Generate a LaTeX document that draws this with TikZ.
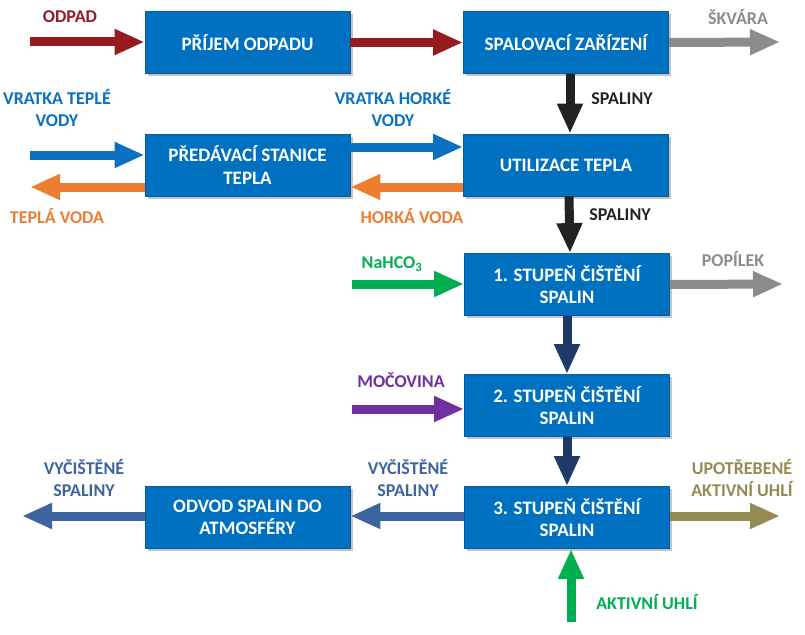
\documentclass[tikz,border=0pt]{standalone}
\usepackage{fontspec}
\setmainfont{Carlito}
\usetikzlibrary{arrows.meta,shadows,calc}
\newcommand\UC[1]{\MakeUppercase{#1}}
\definecolor{boxblue}{HTML}{0070C0}
\definecolor{boxedge}{HTML}{0A5A9A}
\definecolor{cred}{HTML}{961B1E}
\definecolor{cgray}{HTML}{8C8C8C}
\definecolor{cblack}{HTML}{222222}
\definecolor{cblue}{HTML}{0A70C0}
\definecolor{corange}{HTML}{ED7D31}
\definecolor{cgreen}{HTML}{00B050}
\definecolor{cnavy}{HTML}{1F3A68}
\definecolor{cpurple}{HTML}{7030A0}
\definecolor{csteel}{HTML}{3E64A0}
\definecolor{colive}{HTML}{948A54}
\begin{document}
\begin{tikzpicture}[x=1pt,y=-1pt,
  box/.style={draw=boxedge,line width=0.8pt,fill=boxblue,minimum width=205pt,minimum height=62pt,
    text=white,font=\fontsize{19}{22.5}\selectfont\bfseries,align=center,inner sep=2pt,
    drop shadow={shadow xshift=2.5pt,shadow yshift=-2.5pt,opacity=0.45}},
  flow/.style={line width=9pt,-{Triangle[width=24pt,length=30pt]}},
  lbl/.style={font=\fontsize{18}{22}\selectfont\bfseries,align=center,inner sep=0pt}]
\useasboundingbox (0,0) rectangle (805,634);
\fill[white] (0,0) rectangle (805,634);
% boxes
\node[box] (prijem) at (247.5,42.5) {\UC{PŘÍJEM ODPADU}};
\node[box] (spal) at (566,42.5) {\UC{SPALOVACÍ ZAŘÍZENÍ}};
\node[box] (pred) at (247.5,165) {\UC{PŘEDÁVACÍ STANICE}\\\UC{TEPLA}};
\node[box] (util) at (566,165) {\UC{UTILIZACE TEPLA}};
\node[box] (st1) at (567,284.5) {\UC{1. STUPEŇ ČIŠTĚNÍ}\\\UC{SPALIN}};
\node[box] (st2) at (567,405.5) {\UC{2. STUPEŇ ČIŠTĚNÍ}\\\UC{SPALIN}};
\node[box] (st3) at (567,517.5) {\UC{3. STUPEŇ ČIŠTĚNÍ}\\\UC{SPALIN}};
\node[box] (odvod) at (247.5,517.5) {\UC{ODVOD SPALIN DO}\\\UC{ATMOSFÉRY}};
% free ends
\coordinate (odpadin) at (30,42);
\coordinate (skvara) at (780,42);
\coordinate (vrtin) at (30,155);
\coordinate (tvout) at (30,187);
\coordinate (nain) at (352,284);
\coordinate (popout) at (783,284);
\coordinate (mocin) at (352,409);
\coordinate (atmout) at (22,516);
\coordinate (uhliout) at (780,516);
\coordinate (uhliin) at (571,622);
% connectors
\draw[flow,cred] (odpadin) -- (odpadin -| prijem.west);
\draw[flow,cred] (prijem.east) -- (spal.west);
\draw[flow,cgray] (spal.east) -- (skvara);
\draw[flow,cblack] ($(spal.south)+(4,0)$) -- ($(util.north)+(4,0)$);
\draw[flow,cblue] (vrtin) -- (vrtin -| pred.west);
\draw[flow,cblue] ($(pred.east)+(0,-18)$) -- ($(util.west)+(0,-18)$);
\draw[flow,corange] ($(util.west)+(0,22)$) -- ($(pred.east)+(0,22)$);
\draw[flow,corange] ($(pred.west)+(0,22)$) -- (tvout);
\draw[flow,cblack] ($(util.south)+(3,0)$) -- ($(st1.north)+(3,0)$);
\draw[flow,cgreen] (nain) -- (nain -| st1.west);
\draw[flow,cgray] (st1.east) -- (popout);
\draw[flow,cnavy] (st1.south) -- (st2.north);
\draw[flow,cpurple] (mocin) -- (mocin -| st2.west);
\draw[flow,cnavy] (st2.south) -- (st3.north);
\draw[flow,csteel] ($(st3.west)+(0,-1.5)$) -- ($(odvod.east)+(0,-1.5)$);
\draw[flow,csteel] ($(odvod.west)+(0,-1.5)$) -- (atmout);
\draw[flow,colive] ($(st3.east)+(0,-1.5)$) -- (uhliout);
\draw[flow,cgreen] (uhliin) -- (uhliin |- st3.south);
% labels
\node[lbl,text=cred] (l1) at (70,17) {\UC{ODPAD}};
\node[lbl,text=cgray] (l2) at (738,17) {\UC{ŠKVÁRA}};
\node[lbl,text=cblack] (l3) at (622,99) {\UC{SPALINY}};
\node[lbl,text=cblue] (l4) at (57,108) {\UC{VRATKA TEPLÉ}\\\UC{VODY}};
\node[lbl,text=cblue] (l5) at (393,108) {\UC{VRATKA HORKÉ}\\\UC{VODY}};
\node[lbl,text=corange] (l6) at (57,216) {\UC{TEPLÁ VODA}};
\node[lbl,text=corange] (l7) at (412,216) {\UC{HORKÁ VODA}};
\node[lbl,text=cblack] (l8) at (620,215) {\UC{SPALINY}};
\node[lbl,text=cgreen] (l9) at (392,264) {NaHCO\textsubscript{3}};
\node[lbl,text=cgray] (l10) at (733,259) {\UC{POPÍLEK}};
\node[lbl,text=cpurple] (l11) at (401,380) {\UC{MOČOVINA}};
\node[lbl,text=csteel] (l12) at (408,478) {\UC{VYČIŠTĚNÉ}\\\UC{SPALINY}};
\node[lbl,text=csteel] (l13) at (84,478) {\UC{VYČIŠTĚNÉ}\\\UC{SPALINY}};
\node[lbl,text=colive] (l14) at (742,478) {\UC{UPOTŘEBENÉ}\\\UC{AKTIVNÍ UHLÍ}};
\node[lbl,text=cgreen] (l15) at (647,602) {\UC{AKTIVNÍ UHLÍ}};
\end{tikzpicture}
\end{document}
